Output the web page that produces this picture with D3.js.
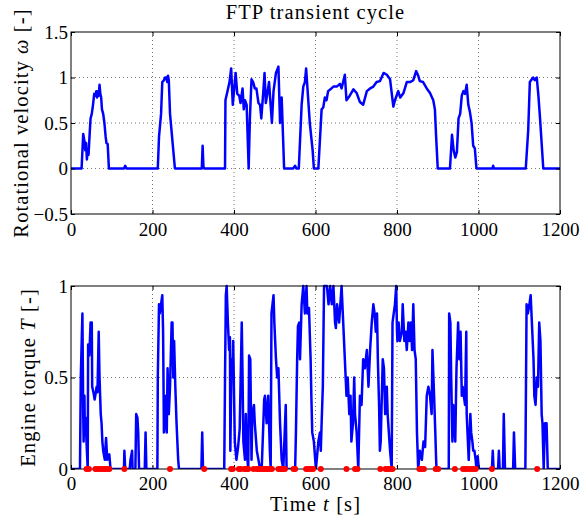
<!DOCTYPE html>
<html>
<head>
<meta charset="utf-8">
<script src="https://cdn.jsdelivr.net/npm/d3@7"></script>
<style>
  body { margin: 0; background: #fff; }
  text { font-family: "Liberation Serif", "Times New Roman", serif; }
  .tick text { font-size: 19px; fill: #000; }
  .tick line { stroke: #000; }
  .lbl { font-size: 20.5px; letter-spacing: 1.1px; }
</style>
</head>
<body>
<div id="chart"></div>
<script>
// Rotational velocity (normalized) over the FTP cycle, [t, value]
const omega = [
  [0,0],[26,0],[30,0.38],[33,0.3],[35,0.2],[37,0.28],[39,0.1],[41,0.2],[43,0.15],[46,0.4],
  [48,0.55],[51,0.6],[54,0.7],[57,0.82],[60,0.8],[62,0.85],[64,0.78],[66,0.85],[68,0.8],[70,0.92],
  [72,0.82],[74,0.78],[76,0.65],[79,0.6],[82,0.5],[85,0.35],[87,0.28],[90,0.27],[93,0],
  [130,0],[133,0.03],[136,0],
  [213,0],[216,0.35],[218,0.45],[221,0.6],[224,0.95],[228,0.97],[231,1.0],[234,1.0],[236,0.95],
  [238,1.02],[240,0.97],[243,0.6],[247,0.4],[251,0.2],[255,0],
  [321,0],[323,0.25],[325,0.02],[327,0],
  [378,0],[379,0.75],[384,0.85],[389,0.95],[393,1.1],[397,0.7],[400,0.85],[404,1.05],[408,0.82],
  [413,0.8],[416,0.72],[421,0.88],[424,0.65],[427,0.75],[431,0.7],[436,0],[439,0.55],[443,0.98],
  [447,0.95],[451,0.88],[455,0.88],[460,0.72],[464,0.7],[467,0.55],[472,0.85],[475,1.05],[478,0.72],
  [481,0.8],[486,0.95],[493,0.5],[497,0.85],[503,1.05],[509,1.12],[513,0.5],[517,0.78],[523,0],
  [545,0],[550,0.03],[553,0],
  [559,0],[566,0.7],[570,0.9],[574,0.95],[577,1.1],[580,0.9],[586,0.5],[593,0.2],[596,0],[607,0],
  [615,0.65],[619,0.67],[623,0.78],[627,0.75],[631,0.85],[639,0.88],[644,0.9],[652,0.9],[660,0.93],
  [664,0.88],[672,1.03],[676,0.75],[684,0.8],[693,0.87],[701,0.83],[709,0.73],[717,0.7],[726,0.85],
  [734,0.88],[742,0.9],[750,0.95],[758,0.96],[767,1.05],[775,1.03],[783,0.98],[791,0.68],[795,0.75],
  [803,0.85],[808,0.78],[816,0.83],[824,0.95],[832,0.95],[840,0.97],[847,1.07],[852,1.02],[856,0.96],
  [864,0.95],[873,0.88],[881,0.83],[889,0.75],[893,0.65],[896,0.35],[900,0],
  [930,0],[935,0.37],[939,0.2],[943,0.12],[947,0.18],[951,0.55],[955,0.6],[959,0.8],[963,0.85],
  [967,0.82],[971,0.92],[975,0.7],[979,0.62],[983,0.5],[987,0.25],[991,0.22],[995,0],
  [1034,0],[1036,0.03],[1038,0],
  [1116,0],[1122,0.42],[1126,0.95],[1134,1.0],[1138,0.97],[1143,1.0],[1147,0.8],[1151,0.55],[1159,0],
  [1200,0]
];

// Engine torque (normalized), [t, value]
const torque = [
  [0,0],[22,0],[24,0.5],[28,0.85],[30,0.3],[31,0.15],[33,0.4],[34,0.2],[36,0.28],[38,0.15],[41,0],
  [42,0.68],[45,0.62],[48,0.8],[51,0.8],[52,0.45],[55,0.42],[58,0.38],[61,0.42],[63,0.45],[65,0.42],
  [68,0.75],[70,0.5],[73,0.3],[75,0.25],[77,0.15],[79,0.1],[83,0.05],[86,0.17],[89,0.05],[94,0.08],[97,0],
  [130,0],[131,0.1],[133,0],[144,0],[146,0.05],[150,0.1],[151,0],
  [158,0],[160,0.3],[163,0.28],[165,0.2],[167,0],[181,0],[183,0.2],[185,0],
  [212,0],[213,0.5],[216,0.9],[218,0.85],[221,0.9],[224,0.95],[226,0.75],[228,0.2],[231,0.3],[233,0.4],
  [235,0.2],[237,0.55],[240,0.3],[243,0.45],[247,0.8],[249,0.8],[251,0.5],[253,0.7],[256,0.45],
  [259,0.25],[263,0.05],[265,0],
  [320,0],[322,0.2],[324,0],
  [376,0],[378,0.5],[380,0.95],[382,1.0],[385,0.8],[388,0.65],[390,0.72],[391,0.1],[394,0.6],[396,0.5],
  [398,0.7],[402,0.15],[406,0.05],[410,0.12],[414,0.22],[419,0.8],[421,0.5],[423,0.15],[427,0.05],
  [429,0.3],[431,0.1],[435,0],[437,0.62],[440,0.6],[443,0.05],[445,0.3],[449,0.35],[451,0.25],[456,0.1],
  [460,0.05],[464,0],[468,0],[472,0.25],[474,0.38],[476,0.4],[480,0.25],[484,0.4],[488,0.1],[490,0],
  [492,0.85],[497,0.95],[499,0.8],[503,0.6],[506,0.5],[509,0.55],[513,0.25],[517,0.05],[521,0],
  [527,0.35],[529,0],
  [550,0],[552,0.2],[555,0.6],[557,0.78],[560,0.8],[562,0.6],[566,0.9],[570,1.0],[574,0.85],[578,1.0],
  [580,0.85],[584,0.88],[588,0.6],[590,0.38],[592,0.2],[596,0.15],[601,0],[607,0.15],[611,0.2],[613,0.1],
  [615,0.25],[618,0.45],[621,1.0],[628,1.0],[632,0.9],[636,1.0],[640,0.9],[644,1.0],[648,0.8],[650,0.77],
  [653,0.9],[658,0.8],[661,0.9],[664,1.0],[666,0.9],[670,0.7],[672,0.6],[676,0.4],[679,0.5],[683,0.3],
  [686,0.4],[688,0.15],[690,0.2],[692,0.25],[695,0.5],[697,0.3],[701,0.2],[705,0],[709,0.4],[713,0.35],
  [717,0.6],[721,0.55],[726,0.65],[730,0.45],[734,0.65],[738,0.8],[742,0.9],[745,0.85],[748,0.75],
  [751,0.85],[753,0.6],[756,0.35],[758,0.1],[760,0.15],[765,0.6],[768,0.55],[771,0.3],[775,0.45],
  [777,0.3],[783,0.1],[785,0.05],[787,0],[789,0.8],[792,0.85],[795,0.9],[798,1.0],[800,0.75],[801,0.7],
  [804,0.8],[807,0.7],[812,0.75],[814,0.9],[818,0.7],[821,0.75],[824,0.65],[828,0.8],[831,0.7],[834,0.8],
  [837,0.65],[840,0.9],[843,0.65],[846,0.6],[849,0.2],[852,0],[856,0.1],[861,0.05],[865,0.15],[869,0.12],
  [873,0.4],[877,0.45],[881,0.4],[885,0.3],[887,0.65],[891,0.4],[894,0.2],[896,0.05],[897,0],
  [927,0],[928,0.85],[931,0.8],[933,0.5],[936,0.15],[938,0.35],[941,0.25],[943,0.15],[946,0.55],[950,0.8],
  [953,0.6],[956,0.75],[959,0.4],[961,0.45],[964,0.4],[967,0.35],[970,0.75],[971,0.3],[973,0.2],[976,0.05],
  [980,0.3],[982,0.2],[985,0.15],[987,0.1],[990,0.1],[993,0.05],[995,0],[998,0.07],[1001,0],
  [1033,0],[1035,0.1],[1037,0],[1048,0],[1050,0.1],[1052,0],[1060,0],[1062,0.3],[1065,0],
  [1085,0],[1087,0.2],[1090,0],
  [1115,0],[1118,0.9],[1121,0.85],[1125,0.9],[1128,0.95],[1131,0.8],[1135,0.6],[1137,0.4],[1140,0.35],
  [1143,0.5],[1146,0.45],[1149,0.8],[1152,0.7],[1155,0.3],[1157,0.25],[1160,0],[1163,0.25],[1167,0.25],
  [1170,0],[1200,0]
];

// times of the red markers on the torque axis (all at T = 0)
const motoring = [38,44,60,65,71,77,83,88,94,131,243,327,393,397,412,416,425,431,435,448,456,460,464,
  470,474,478,482,487,493,509,513,517,521,525,546,550,577,582,588,594,613,676,697,703,759,772,777,783,
  789,855,860,866,895,901,942,962,968,974,980,987,993,1033,1144];

const xTicks = [0, 200, 400, 600, 800, 1000, 1200];
const omegaTicks = [-0.5, 0, 0.5, 1, 1.5];
const torqueTicks = [0, 0.5, 1];

let width = 581, height = 522;
let left = 71, right = 560;
const FONT = "'Liberation Serif', 'Times New Roman', serif";

let svg = d3.select("#chart").append("svg")
    .attr("width", width)
    .attr("height", height);

let x = d3.scaleLinear().domain([0, 1200]).range([left, right]);

function panel(top, bottom, yDomain, yTicks, data, id, xPad) {
    let y = d3.scaleLinear().domain(yDomain).range([bottom, top]);
    let g = svg.append("g");
    let fmt = d3.format("");

    // dotted grid
    g.selectAll(".gx").data(xTicks.slice(1, -1)).enter().append("line")
        .attr("x1", d => x(d)).attr("x2", d => x(d))
        .attr("y1", top).attr("y2", bottom)
        .attr("stroke", "#777").attr("stroke-dasharray", "1,3");
    g.selectAll(".gy").data(yTicks.filter(d => d > yDomain[0] && d < yDomain[1])).enter().append("line")
        .attr("x1", left).attr("x2", right)
        .attr("y1", d => y(d)).attr("y2", d => y(d))
        .attr("stroke", "#777").attr("stroke-dasharray", "1,3");

    g.append("clipPath").attr("id", id)
        .append("rect").attr("x", left).attr("y", top - 2)
        .attr("width", right - left).attr("height", bottom - top + 2);

    g.append("path")
        .datum(data)
        .attr("clip-path", `url(#${id})`)
        .attr("fill", "none")
        .attr("stroke", "#0000ff")
        .attr("stroke-width", 2.5)
        .attr("stroke-linejoin", "round")
        .attr("d", d3.line().x(d => x(d[0])).y(d => y(d[1])));

    // inward ticks on all four sides, matlab style
    g.append("g").attr("transform", `translate(0,${bottom})`)
        .call(d3.axisBottom(x).tickValues(xTicks).tickFormat(fmt).tickSize(-4).tickSizeOuter(0).tickPadding(xPad));
    g.append("g").attr("transform", `translate(0,${top})`)
        .call(d3.axisTop(x).tickValues(xTicks).tickFormat("").tickSize(-4).tickSizeOuter(0));
    g.append("g").attr("transform", `translate(${left},0)`)
        .call(d3.axisLeft(y).tickValues(yTicks).tickFormat(fmt).tickSize(-4).tickSizeOuter(0).tickPadding(3));
    g.append("g").attr("transform", `translate(${right},0)`)
        .call(d3.axisRight(y).tickValues(yTicks).tickFormat("").tickSize(-4).tickSizeOuter(0));
    g.selectAll(".domain").remove();
    g.selectAll(".tick").select("text")
        .attr("font-family", FONT).attr("font-size", 19);

    g.append("rect")
        .attr("x", left).attr("y", top)
        .attr("width", right - left).attr("height", bottom - top)
        .attr("fill", "none").attr("stroke", "#000");

    return { g: g, y: y };
}

let p1 = panel(32, 214, [-0.5, 1.5], omegaTicks, omega, "clip1", 9);
let p2 = panel(286, 469, [0, 1], torqueTicks, torque.map(d => [d[0], Math.min(d[1], 1)]), "clip2", 8);

// red markers
p2.g.selectAll("circle").data(motoring).enter().append("circle")
    .attr("cx", d => x(d))
    .attr("cy", p2.y(0))
    .attr("r", 3)
    .attr("fill", "#ff0000");

// title and axis labels
svg.append("text")
    .attr("class", "lbl")
    .attr("x", (left + right) / 2).attr("y", 19)
    .style("text-anchor", "middle")
    .text("FTP transient cycle");

let yl1 = svg.append("text")
    .attr("class", "lbl")
    .attr("transform", `translate(28, ${(32 + 214) / 2}) rotate(-90)`)
    .style("text-anchor", "middle");
yl1.append("tspan").text("Rotational velocity ");
yl1.append("tspan").style("font-style", "italic").text("ω");
yl1.append("tspan").text(" [-]");

let yl2 = svg.append("text")
    .attr("class", "lbl")
    .attr("transform", `translate(35, ${(286 + 469) / 2}) rotate(-90)`)
    .style("text-anchor", "middle");
yl2.append("tspan").text("Engine torque ");
yl2.append("tspan").style("font-style", "italic").text("T");
yl2.append("tspan").text(" [-]");

let xl = svg.append("text")
    .attr("class", "lbl")
    .attr("x", (left + right) / 2).attr("y", 511)
    .style("text-anchor", "middle");
xl.append("tspan").text("Time ");
xl.append("tspan").style("font-style", "italic").text("t");
xl.append("tspan").text(" [s]");
</script>
</body>
</html>
